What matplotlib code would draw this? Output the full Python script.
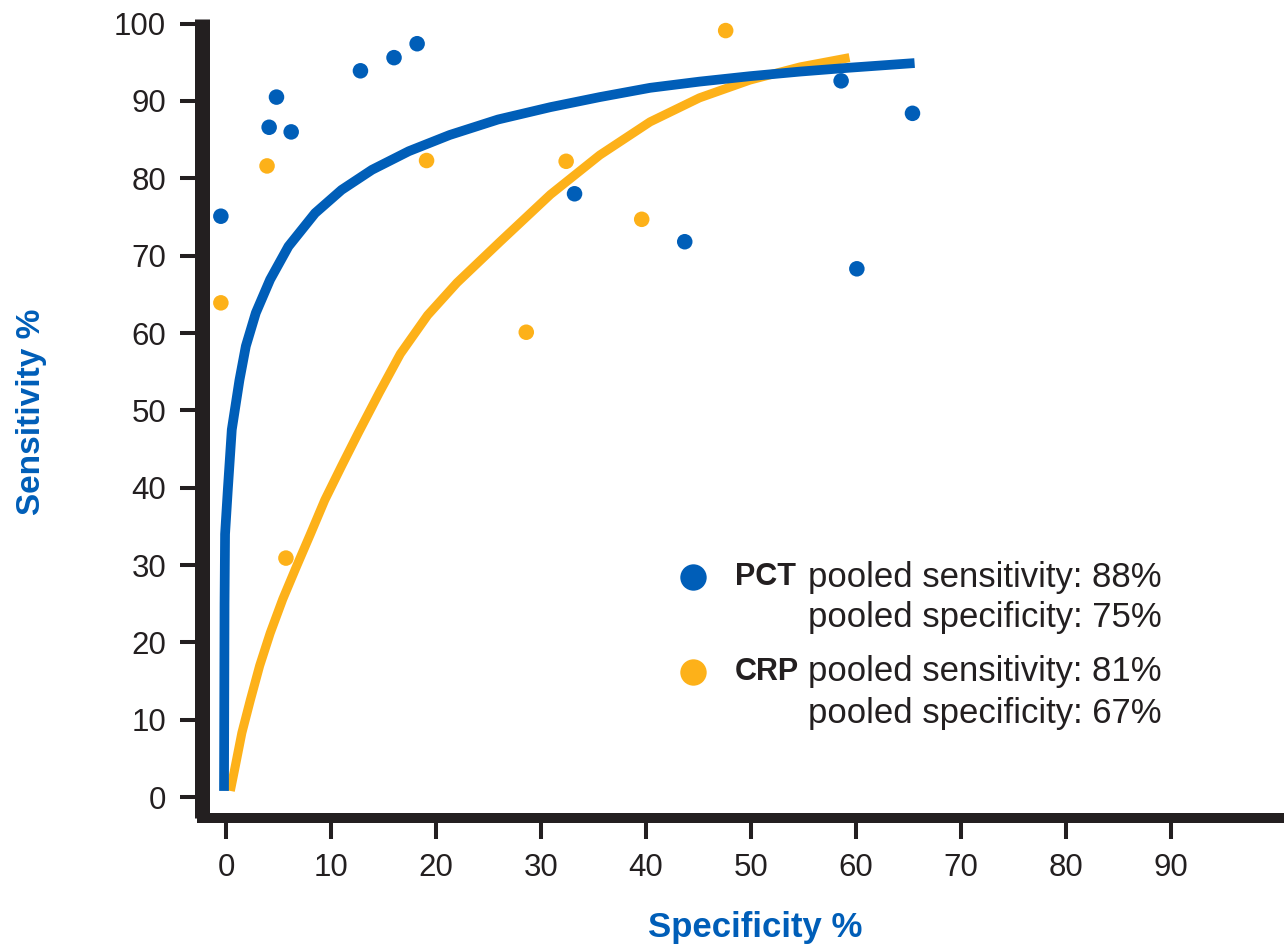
import matplotlib
matplotlib.use("Agg")
import matplotlib.pyplot as plt

# ------------------------------------------------------------
# data
# ------------------------------------------------------------
pct_spec = [-0.5, 4.8, 4.1, 6.2, 12.8, 16.0, 18.2, 33.2, 43.7, 60.1, 58.6, 65.4]
pct_sens = [75.1, 90.5, 86.6, 86.0, 93.9, 95.6, 97.4, 78.0, 71.8, 68.3, 92.6, 88.4]

crp_spec = [-0.5, 3.9, 5.7, 19.1, 28.6, 32.4, 39.6, 47.6]
crp_sens = [63.9, 81.6, 30.9, 82.3, 60.1, 82.2, 74.7, 99.1]

# summary ROC curves
pct_curve_x = [-0.2, -0.15, -0.1, 0.16, 0.54, 1.27, 1.88, 2.83, 4.19, 5.94, 8.48,
               11.0, 13.9, 17.4, 21.3, 25.9, 30.9, 35.6, 40.4, 45.1, 49.9, 54.7,
               59.4, 65.6]
pct_curve_y = [0.8, 25.0, 34.0, 39.7, 47.5, 53.9, 58.3, 62.6, 66.9, 71.2, 75.5,
               78.5, 81.1, 83.5, 85.6, 87.6, 89.2, 90.5, 91.7, 92.5, 93.2, 93.8,
               94.3, 94.9]

crp_curve_x = [0.4, 0.86, 1.5, 2.3, 3.2, 4.2, 5.4, 6.7, 8.0, 9.4, 11.0, 12.6, 14.6,
               16.6, 19.2, 22.0, 26.1, 30.9, 35.6, 40.4, 45.1, 49.9, 54.7, 59.4]
crp_curve_y = [0.8, 3.9, 8.3, 12.5, 17.0, 21.2, 25.6, 29.8, 33.9, 38.4, 42.8, 47.1,
               52.3, 57.3, 62.3, 66.5, 71.8, 77.9, 83.0, 87.3, 90.4, 92.7, 94.4, 95.6]

x_ticks = [0, 10, 20, 30, 40, 50, 60, 70, 80, 90]
y_ticks = [0, 10, 20, 30, 40, 50, 60, 70, 80, 90, 100]

legend_rows = [
    ("PCT", "pooled sensitivity: 88%", "pooled specificity: 75%"),
    ("CRP", "pooled sensitivity: 81%", "pooled specificity: 67%"),
]

BLUE = "#005eb8"
ORANGE = "#fdb119"
DARK = "#231f20"

# ------------------------------------------------------------
# figure
# ------------------------------------------------------------
plt.rcParams['font.family'] = ['Liberation Sans', 'DejaVu Sans']

fig = plt.figure(figsize=(12.84, 9.44), dpi=100)
ax = fig.add_axes([0.1573, 0.1335, 0.8427, 0.8464])

ax.plot(pct_curve_x, pct_curve_y, color=BLUE, lw=7, solid_capstyle='butt',
        solid_joinstyle='round', zorder=3)
ax.plot(crp_curve_x, crp_curve_y, color=ORANGE, lw=6.5, solid_capstyle='butt',
        solid_joinstyle='round', zorder=2)

ax.scatter(pct_spec, pct_sens, s=125, color=BLUE, edgecolors='none', zorder=4)
ax.scatter(crp_spec, crp_sens, s=125, color=ORANGE, edgecolors='none', zorder=4)

ax.set_xlim(-2.3, 100.8)
ax.set_ylim(-2.7, 100.6)
ax.set_xticks(x_ticks)
ax.set_yticks(y_ticks)

for side in ['top', 'right']:
    ax.spines[side].set_visible(False)
ax.spines['left'].set_linewidth(10.8)
ax.spines['bottom'].set_linewidth(7.2)
ax.spines['left'].set_color(DARK)
ax.spines['bottom'].set_color(DARK)
ax.spines['left'].set_capstyle('butt')
ax.spines['bottom'].set_capstyle('projecting')

ax.tick_params(axis='y', direction='out', length=15.8, width=2.9, colors=DARK,
               labelsize=22.5, pad=10)
ax.tick_params(axis='x', direction='out', length=15, width=2.9, colors=DARK,
               labelsize=22.5, pad=10)

# axis titles
fig.text(32 / 1284, 1 - 412 / 944, "Sensitivity %", rotation=90, ha='center',
         va='center', color=BLUE, fontsize=24, fontweight='bold')
fig.text(755 / 1284, 1 - 927 / 944, "Specificity %", ha='center', va='center',
         color=BLUE, fontsize=25, fontweight='bold')

# legend block
row_y = [(577, 617), (672, 714)]
for (name, line1, line2), (y1, y2), col in zip(legend_rows, row_y, [BLUE, ORANGE]):
    ax.plot([(693 - 226) / 10.5], [(797 - y1) / 7.73], 'o', color=col,
            markersize=19, markeredgewidth=0, zorder=5)
    fig.text(735 / 1284, 1 - y1 / 944, name, ha='left', va='center',
             color=DARK, fontsize=22, fontweight='bold')
    fig.text(808 / 1284, 1 - y1 / 944, line1, ha='left', va='center',
             color=DARK, fontsize=25)
    fig.text(808 / 1284, 1 - y2 / 944, line2, ha='left', va='center',
             color=DARK, fontsize=25)

fig.savefig("out.png", dpi=100)
plt.close(fig)
